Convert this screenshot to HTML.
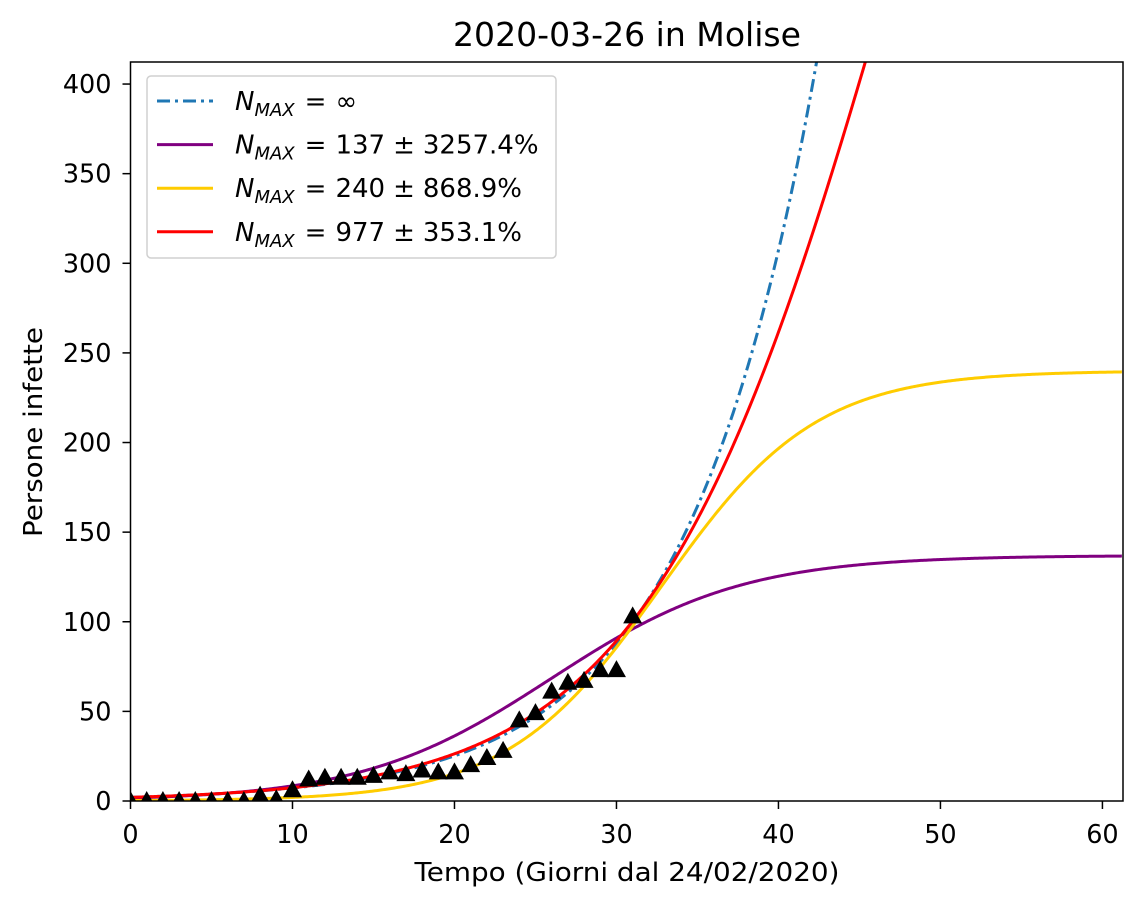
<!DOCTYPE html>
<html><head><meta charset="utf-8"><style>
body{margin:0;background:#fff;}
svg text{font-family:"DejaVu Sans","Liberation Sans",sans-serif;}
</style></head><body>
<svg id="chart" width="1145" height="908" viewBox="0 0 1145 908" xmlns="http://www.w3.org/2000/svg">
<rect width="1145" height="908" fill="#fff"/>
<text x="627" y="46" font-size="33" text-anchor="middle" textLength="348" lengthAdjust="spacingAndGlyphs">2020-03-26 in Molise</text>
<g id="plot"></g>
<text x="627" y="881" font-size="26" text-anchor="middle" textLength="425" lengthAdjust="spacingAndGlyphs">Tempo (Giorni dal 24/02/2020)</text>
<text transform="translate(42,432) rotate(-90)" font-size="26" text-anchor="middle" textLength="210" lengthAdjust="spacingAndGlyphs">Persone infette</text>
</svg>
<script>
const days=[0,1,2,3,4,5,6,7,8,9,10,11,12,13,14,15,16,17,18,19,20,21,22,23,24,25,26,27,28,29,30,31];
const cases=[0,0,0,0,0,0,0,0,3,1,6,12,13,13,13,14,16,15,17,16,16,20,24,28,45,49,61,66,67,73,73,103];
const xTicks=[0,10,20,30,40,50,60];
const yTicks=[0,50,100,150,200,250,300,350,400];
const expParams=[2.07,0.125];
const logNmax=[137,240,977];
const logK=[0.17,0.21,0.129];
const logT0=[26,32.8,47.8];
const legendLabels=["137 ± 3257.4%","240 ± 868.9%","977 ± 353.1%"];
const colors=["#800080","#ffcc00","#ff0000"];
const L=130.5,R=1123,T=62,B=801,xMax=61.27,yMax=412.3;
const X=v=>L+(R-L)*v/xMax, Y=v=>B-(B-T)*v/yMax;
const NS="http://www.w3.org/2000/svg";
const g=document.getElementById('plot');
function mk(t,a,p){const e=document.createElementNS(NS,t);for(const k in a)e.setAttribute(k,a[k]);(p||g).appendChild(e);return e;}
const cp=mk('clipPath',{id:'clip'});mk('rect',{x:L,y:T,width:R-L,height:B-T},cp);
function curve(f,color,dash,name){let d='';for(let t=0;t<=xMax;t+=0.1){const v=f(t);d+=(d?'L':'M')+X(t).toFixed(2)+','+Y(Math.min(v,yMax*1.5)).toFixed(2);}
const p=mk('path',{d:d,fill:'none',stroke:color,'stroke-width':3,'clip-path':'url(#clip)'});if(dash)p.setAttribute('stroke-dasharray',dash);

}
curve(t=>expParams[0]*Math.exp(expParams[1]*t),'#1f77b4','13,5,3,5','exponential-curve');
for(let i=0;i<3;i++)curve(t=>logNmax[i]/(1+Math.exp(-logK[i]*(t-logT0[i]))),colors[i],null,'logistic-curve-'+logNmax[i]);
days.forEach((d,i)=>{const x=X(d),y=Y(cases[i]);const m=mk('path',{d:`M${x},${y-10}L${x+9.5},${y+7}L${x-9.5},${y+7}Z`,fill:'#000','clip-path':'url(#clip)'});

});
const fr=mk('rect',{x:L,y:T,width:R-L,height:B-T,fill:'none',stroke:'#000','stroke-width':1.5});


xTicks.forEach(v=>{mk('line',{x1:X(v),x2:X(v),y1:B,y2:B+8,stroke:'#000','stroke-width':1.5});const t=mk('text',{x:X(v),y:B+42,'font-size':25.5,'text-anchor':'middle'});t.textContent=v;

});
yTicks.forEach(v=>{mk('line',{x1:L-8,x2:L,y1:Y(v),y2:Y(v),stroke:'#000','stroke-width':1.5});const t=mk('text',{x:L-19,y:Y(v)+9,'font-size':25.5,'text-anchor':'end'});t.textContent=v;

});
const lg=mk('g',{});


mk('rect',{x:147,y:76,width:409,height:182,rx:4,fill:'#fff','fill-opacity':0.8,stroke:'#d0d0d0','stroke-width':1.5},lg);
const lc=['#1f77b4'].concat(colors),ll=['∞'].concat(legendLabels);
ll.forEach((s,i)=>{const y=101+i*43.6;const ln=mk('line',{x1:157,x2:213,y1:y,y2:y,stroke:lc[i],'stroke-width':3},lg);if(i==0)ln.setAttribute('stroke-dasharray','13,5,3,5');
const t=mk('text',{x:235,y:y+9,'font-size':26},lg);


const parts=s.split(' ± ');
let rest=parts.length>1?`<tspan dx="9">${parts[0]}</tspan><tspan dx="8">±</tspan><tspan dx="8">${parts[1]}</tspan>`:`<tspan dx="9">${s}</tspan>`;
t.innerHTML=`<tspan font-style="italic">N</tspan><tspan font-style="italic" font-size="18" dy="6">MAX</tspan><tspan dy="-6" dx="10">=</tspan>${rest}`;});
</script>
</body></html>
